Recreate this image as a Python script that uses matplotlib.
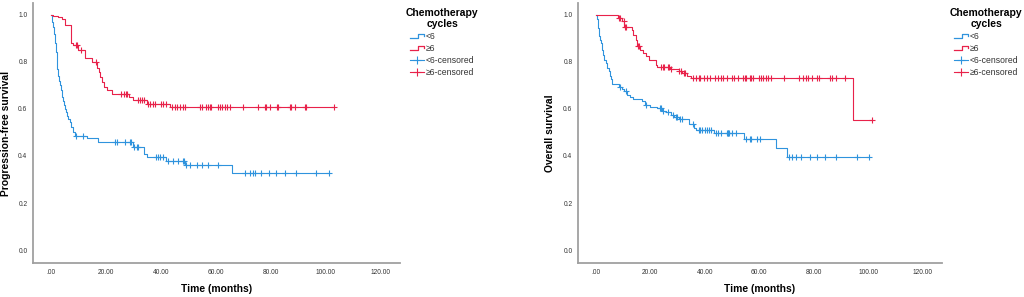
import numpy as np
import matplotlib
matplotlib.use("Agg")
import matplotlib.pyplot as plt
from matplotlib.lines import Line2D
from matplotlib.legend_handler import HandlerBase

plt.rcParams['font.family'] = ['Liberation Sans', 'DejaVu Sans']

# ---------------- data ----------------
# Progression-free survival, <6 cycles
pfs_lt6_t = [0.5, 0.9, 1.2, 1.5, 1.8, 2.1, 2.4, 2.7, 3.0, 3.3, 3.6, 3.9, 4.2, 4.5, 4.8, 5.1, 5.4, 5.7, 6.2, 6.9,
             7.5, 8.1, 8.7, 13.2, 17.2, 30.0, 33.8, 34.8, 42.0, 48.7, 66.0]
pfs_lt6_s = [0.97, 0.95, 0.92, 0.88, 0.84, 0.80, 0.77, 0.74, 0.72, 0.70, 0.68, 0.665, 0.65, 0.635, 0.615, 0.60,
             0.585, 0.57, 0.555, 0.545, 0.525, 0.50, 0.485, 0.475, 0.46, 0.44, 0.41, 0.394, 0.379, 0.362, 0.326]
pfs_lt6_cens = [9.1, 11.8, 23.3, 23.9, 26.9, 28.7, 29.3, 30.4, 31.2, 31.8, 38.4, 39.0, 39.6, 40.8, 42.7, 44.5,
                46.3, 48.1, 48.5, 49.3, 50.5, 53.0, 54.8, 57.2, 60.8, 70.5, 72.4, 73.6, 74.2, 76.6, 79.4, 81.8,
                85.1, 89.1, 96.6, 101.2]

# Progression-free survival, >=6 cycles
pfs_ge6_t = [0.9, 2.5, 3.9, 5.0, 7.2, 8.0, 10.0, 12.4, 14.8, 16.8, 17.4, 18.0, 18.6, 19.3, 20.6, 22.4, 28.6,
             30.0, 34.8, 43.3]
pfs_ge6_s = [0.995, 0.99, 0.98, 0.957, 0.88, 0.87, 0.85, 0.815, 0.80, 0.775, 0.755, 0.735, 0.715, 0.695, 0.68,
             0.665, 0.65, 0.636, 0.622, 0.606]
pfs_ge6_cens = [9.1, 9.5, 10.9, 16.3, 25.5, 26.5, 27.3, 27.8, 31.8, 32.4, 33.3, 33.8, 35.4, 36.2, 37.2, 37.8,
                40.2, 40.8, 41.8, 43.9, 45.1, 45.9, 46.9, 47.9, 48.7, 54.2, 54.8, 56.6, 57.2, 57.8, 58.2, 60.8,
                61.5, 62.4, 63.3, 63.9, 65.1, 69.9, 75.4, 77.8, 78.4, 79.6, 82.1, 82.7, 86.9, 87.5, 88.7, 92.4,
                92.7, 103.0]

# Overall survival, <6 cycles
os_lt6_t = [0.4, 0.8, 1.2, 1.6, 1.8, 2.2, 2.8, 3.2, 3.7, 4.2, 4.8, 5.2, 5.6, 6.1, 8.4, 9.6, 10.4, 11.4, 12.4,
            13.6, 16.8, 18.0, 20.0, 22.4, 24.4, 25.8, 27.6, 28.8, 30.6, 34.2, 36.0, 36.6, 43.2, 54.4, 66.0, 70.0]
os_lt6_s = [0.98, 0.943, 0.908, 0.894, 0.88, 0.851, 0.83, 0.809, 0.795, 0.774, 0.76, 0.741, 0.727, 0.707, 0.693,
            0.685, 0.675, 0.66, 0.65, 0.642, 0.632, 0.618, 0.608, 0.604, 0.593, 0.586, 0.576, 0.566, 0.557,
            0.537, 0.519, 0.509, 0.496, 0.47, 0.435, 0.397]
os_lt6_cens = [8.8, 11.2, 18.6, 23.6, 24.0, 24.8, 26.4, 28.2, 29.4, 29.7, 30.9, 31.6, 35.7, 37.8, 38.4, 39.0,
               40.2, 40.8, 41.4, 42.4, 44.1, 45.0, 46.0, 48.0, 48.4, 48.6, 48.9, 49.8, 51.6, 55.2, 56.4, 57.0,
               59.2, 60.4, 70.8, 72.1, 73.3, 75.3, 78.7, 81.1, 84.1, 88.3, 95.9, 100.1]

# Overall survival, >=6 cycles
os_ge6_t = [8.0, 9.6, 10.4, 13.2, 13.8, 14.8, 15.2, 16.4, 17.4, 18.4, 19.6, 22.0, 22.4, 27.3, 30.4, 31.8, 33.6,
            34.8, 94.3]
os_ge6_s = [0.986, 0.972, 0.95, 0.936, 0.915, 0.894, 0.869, 0.851, 0.837, 0.826, 0.809, 0.788, 0.777, 0.77,
            0.762, 0.752, 0.741, 0.733, 0.551]
os_ge6_cens = [8.6, 9.0, 10.2, 10.8, 11.2, 15.6, 16.0, 24.0, 24.6, 25.2, 26.4, 27.0, 27.6, 30.6, 31.2, 32.4,
               32.8, 35.7, 36.6, 37.8, 38.4, 39.6, 40.8, 42.0, 43.6, 45.0, 46.0, 46.8, 48.0, 49.8, 50.8, 52.2,
               54.0, 54.6, 55.2, 56.4, 57.0, 57.6, 60.0, 60.6, 61.2, 62.4, 63.2, 64.2, 69.2, 74.4, 76.2, 77.1,
               78.0, 79.2, 81.0, 82.0, 85.8, 86.8, 88.0, 91.6, 101.5]

group_labels = ['<6', '≥6', '<6-censored', '≥6-censored']
legend_title = 'Chemotherapy\ncycles'
x_ticks = [0, 20, 40, 60, 80, 100, 120]
x_tick_labels = ['.00', '20.00', '40.00', '60.00', '80.00', '100.00', '120.00']
y_ticks = [0.0, 0.2, 0.4, 0.6, 0.8, 1.0]

BLUE = '#2f93dd'
RED = '#e8224a'
SPINE = '#a0a0a0'


def km_curve(ax, times, surv, cens, color):
    t = np.concatenate([[0.0], times])
    s = np.concatenate([[1.0], surv])
    end = max(max(cens), t[-1])
    t = np.append(t, end)
    s = np.append(s, s[-1])
    ax.step(t, s, where='post', color=color, lw=0.8, zorder=3)
    cens = np.asarray(cens)
    idx = np.searchsorted(t[:-1], cens, side='right') - 1
    ax.plot(cens, s[idx], linestyle='none', marker='+', color=color,
            markersize=4.2, mew=0.8, zorder=4)


class StepHandler(HandlerBase):
    def create_artists(self, legend, orig_handle, xdescent, ydescent, width, height, fontsize, trans):
        x0, y0 = -xdescent, -ydescent
        xs = [x0, x0 + 0.55 * width, x0 + 0.55 * width, x0 + width, x0 + width]
        ys = [y0 + 0.15 * height, y0 + 0.15 * height, y0 + 0.85 * height, y0 + 0.85 * height, y0 + 0.5 * height]
        ln = Line2D(xs, ys, color=orig_handle.get_color(), lw=0.9, transform=trans)
        return [ln]


fig = plt.figure(figsize=(10.24, 2.97), dpi=100)
W, H = 1024, 297
panels = [
    dict(left=33, right=400, ylabel='Progression-free survival', ylab_px=11,
         data=[(pfs_lt6_t, pfs_lt6_s, pfs_lt6_cens, BLUE), (pfs_ge6_t, pfs_ge6_s, pfs_ge6_cens, RED)],
         leg_x=404),
    dict(left=578, right=942, ylabel='Overall survival', ylab_px=555,
         data=[(os_lt6_t, os_lt6_s, os_lt6_cens, BLUE), (os_ge6_t, os_ge6_s, os_ge6_cens, RED)],
         leg_x=948),
]
top_px, bot_px = 3, 263

for p in panels:
    wpx = p['right'] - p['left']
    ax = fig.add_axes([p['left'] / W, 1 - bot_px / H, wpx / W, (bot_px - top_px) / H])
    for (tt, ss, cc, col) in p['data']:
        km_curve(ax, tt, ss, cc, col)
    ax.set_xlim(-6.5, 127)
    ax.set_ylim(-0.055, 1.05)
    ax.set_xticks(x_ticks)
    ax.set_xticklabels(x_tick_labels)
    ax.set_yticks(y_ticks)
    ax.set_yticklabels([f'{v:.1f}' for v in y_ticks])
    ax.tick_params(length=0, labelsize=4.8, colors='#333333', pad=4)
    for side in ['top', 'right']:
        ax.spines[side].set_visible(False)
    for side in ['left', 'bottom']:
        ax.spines[side].set_color(SPINE)
        ax.spines[side].set_linewidth(1.3)
    ax.set_xlabel('Time (months)', fontsize=7.4, fontweight='bold')
    ax.set_ylabel(p['ylabel'], fontsize=7.4, fontweight='bold')
    ax.xaxis.set_label_coords(0.5, -(284 - bot_px) / (bot_px - top_px))
    ax.yaxis.set_label_coords((p['ylab_px'] - p['left']) / wpx, 0.5)

    handles = [Line2D([], [], color=BLUE), Line2D([], [], color=RED),
               Line2D([], [], color=BLUE, lw=0.8, marker='+', markersize=6, mew=0.8),
               Line2D([], [], color=RED, lw=0.8, marker='+', markersize=6, mew=0.8)]
    hmap = {handles[0]: StepHandler(), handles[1]: StepHandler()}
    leg = fig.legend(handles, group_labels, handler_map=hmap, loc='upper left',
                     bbox_to_anchor=(p['leg_x'] / W, 1 - 6 / H), frameon=False,
                     fontsize=6.2, title=legend_title,
                     title_fontproperties={'weight': 'bold', 'size': 7.5},
                     handlelength=1.7, handletextpad=0.15, labelspacing=0.35,
                     borderaxespad=0, borderpad=0.2)
    leg.get_title().set_multialignment('center')
    for txt in leg.get_texts():
        txt.set_color('#333333')

fig.savefig('out.png', dpi=100)
